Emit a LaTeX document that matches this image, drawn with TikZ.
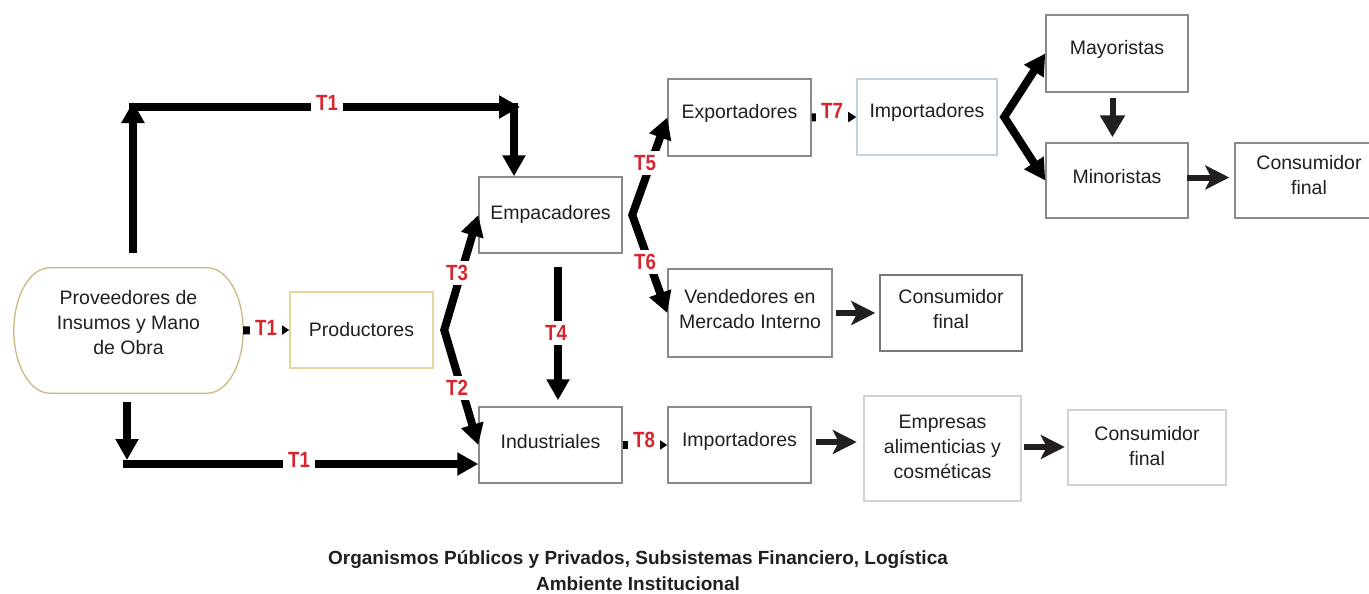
\documentclass[tikz,border=0pt]{standalone}
\usepackage{fontspec}
\setmainfont{Liberation Sans}
\newfontfamily\labfont{Liberation Sans}[FakeStretch=0.85]
\usetikzlibrary{arrows.meta,calc}
\definecolor{tred}{HTML}{D7262E}
\definecolor{ink}{HTML}{231F20}
\definecolor{boxgray}{HTML}{8A8A8A}
\definecolor{darkbox}{HTML}{777777}
\definecolor{tanline}{HTML}{C9B97F}
\definecolor{lightyel}{HTML}{E3D7A0}
\definecolor{lightblue}{HTML}{C3D2DC}
\definecolor{palegray}{HTML}{D2D2D2}
\newcommand\up[2]{\raisebox{#1}[\height][\depth]{#2}}
\newcommand\ml[1]{\begin{tabular}{@{}c@{}}#1\end{tabular}}
\newcommand\mainfs{\fontsize{19.5}{25}\selectfont}
\tikzset{
  bigtip/.tip={Triangle[length=21pt,width=22pt]},
  smalltip/.tip={Triangle[length=8pt,width=10pt]},
  thintip/.tip={Stealth[length=24pt,width=24pt,inset=6pt]},
}
\begin{document}
\begin{tikzpicture}[x=1pt,y=-1pt,
  box/.style={draw=boxgray, line width=1.5pt, rectangle, inner sep=0pt, text=ink, font=\mainfs},
  pale/.style={box, draw=palegray, line width=2.5pt},
  big/.style={line width=8pt, draw=black, -bigtip},
  fork/.style={line width=8pt, draw=black, line join=miter, bigtip-bigtip},
  short/.style={line width=8pt, draw=black, -smalltip},
  thin/.style={line width=6pt, draw=ink, -thintip},
  tlab/.style={fill=white, text=tred, font=\fontsize{22}{26}\selectfont\labfont\bfseries, inner xsep=5pt, inner ysep=4pt},
  stad/.style={draw=tanline, line width=1.3pt},
]
\useasboundingbox (0,0) rectangle (1369,594);
\fill[white] (0,0) rectangle (1369,594);

% boxes
\node[rectangle, minimum width=229pt, minimum height=125pt, inner sep=0pt, text=ink, font=\mainfs]
      (prov) at (128.5,330.5) {\up{6pt}{\ml{Proveedores de\\Insumos y Mano\\de Obra}}};
\draw[stad] ($(prov.north west)+(36,0)$) -- ($(prov.north east)+(-36,0)$)
  .. controls +(20,0) and +(0,-34.5) .. (prov.east)
  .. controls +(0,34.5) and +(20,0) .. ($(prov.south east)+(-36,0)$)
  -- ($(prov.south west)+(36,0)$)
  .. controls +(-20,0) and +(0,34.5) .. (prov.west)
  .. controls +(0,-34.5) and +(-20,0) .. ($(prov.north west)+(36,0)$) -- cycle;
\node[box, draw=lightyel, minimum width=143pt, minimum height=76pt] (prod) at (361.5,330) {Productores};
\node[box, minimum width=143pt, minimum height=76pt] (emp) at (550.5,215) {\up{1pt}{Empacadores}};
\node[box, minimum width=143pt, minimum height=76pt] (ind) at (550.5,445) {\up{3.5pt}{Industriales}};
\node[box, minimum width=143pt, minimum height=77pt] (exp) at (739.5,117.5) {\up{4pt}{Exportadores}};
\node[box, draw=lightblue, minimum width=140pt, minimum height=76pt] (impT) at (927,117) {\up{4.5pt}{Importadores}};
\node[box, minimum width=142pt, minimum height=77pt] (may) at (1117,53.5) {\up{4pt}{Mayoristas}};
\node[box, minimum width=142pt, minimum height=75pt] (min) at (1117,180.5) {\up{4pt}{Minoristas}};
\node[box, minimum width=148pt, minimum height=75pt] (conT) at (1309,180.5) {\up{3.5pt}{\ml{Consumidor\\final}}};
\node[box, minimum width=164pt, minimum height=88pt] (vend) at (750,313) {\up{2.5pt}{\ml{Vendedores en\\Mercado Interno}}};
\node[box, draw=darkbox, minimum width=142pt, minimum height=76pt] (conM) at (951,313) {\up{2pt}{\ml{Consumidor\\final}}};
\node[box, minimum width=143pt, minimum height=76pt] (impB) at (739.5,445) {\up{3.5pt}{Importadores}};
\node[pale, minimum width=157pt, minimum height=105pt] (empr) at (942.5,448.5) {\ml{Empresas\\alimenticias y\\cosméticas}};
\node[pale, minimum width=158pt, minimum height=75pt] (conB) at (1147,447.5) {\ml{Consumidor\\final}};

\node[font=\fontsize{19}{26}\selectfont\bfseries, text=ink, align=center] (amb) at (638,571)
  {Organismos Públicos y Privados, Subsistemas Financiero, Logística\\Ambiente Institucional};

% corner coordinates
\coordinate (c1) at (133,107);
\coordinate (c2) at (520,107);
\coordinate (c3) at (127,464);
\coordinate (jprod) at ($(prod.east)+(10.5,0)$);
\coordinate (jemp) at ($(emp.east)+(9.5,0)$);
\coordinate (jimp) at ($(impT.east)+(6.5,0)$);

% T1 routes
\draw[big] ($(prov.north)+(4.5,-15)$) -- ($(c1)+(0,-5)$);
\draw[big] ($(c1)+(-4,0)$) -- (c2);
\draw[big] ($(c2)+(-6,-4)$) -- ($(emp.north)+(-36.5,0)$);
\draw[big] ($(prov.south)+(-1.5,9)$) -- ($(c3)+(0,-4)$);
\draw[big] ($(c3)+(-4,0)$) -- (c3 -| ind.west);
\draw[short] (prov.east) -- (prod.west);

% forks
\draw[fork] (emp.west) -- (jprod) -- (ind.west);
\draw[fork] (exp.west) -- (jemp) -- (vend.west);
\draw[fork] (may.west) -- (jimp) -- (min.west);

\draw[big] ($(emp.south)+(7.5,13)$) -- ($(ind.north)+(7.5,-6)$);
\draw[short] (exp.east) -- (impT.west);
\draw[short] (ind.east) -- (impB.west);

% thin arrows
\draw[thin, -{Triangle[length=22pt,width=24pt]}] ($(may.south)+(-4.5,5)$) -- ($(min.north)+(-4.5,-5)$);
\draw[thin] ($(min.east)+(-2,-3)$) -- ($(conT.west)+(-5,-3)$);
\draw[thin] ($(vend.east)+(3,0)$) -- ($(conM.west)+(-4,0)$);
\draw[thin] ($(impB.east)+(4,-3)$) -- ($(empr.west)+(-6,-6.5)$);
\draw[thin] ($(empr.east)+(2,-1.5)$) -- ($(conB.west)+(-2,-0.5)$);

% labels
\node[tlab] (t1a) at (327,103) {T1};
\node[tlab] (t1b) at (266,328) {T1};
\node[tlab] (t1c) at (299,460) {T1};
\node[tlab] (t3) at (457,273) {T3};
\node[tlab] (t2) at (457,388) {T2};
\node[tlab] (t4) at (556,333) {T4};
\node[tlab] (t5) at (645,163) {T5};
\node[tlab] (t6) at (645,262) {T6};
\node[tlab] (t7) at (832,111) {T7};
\node[tlab] (t8) at (644,440) {T8};
\end{tikzpicture}
\end{document}
